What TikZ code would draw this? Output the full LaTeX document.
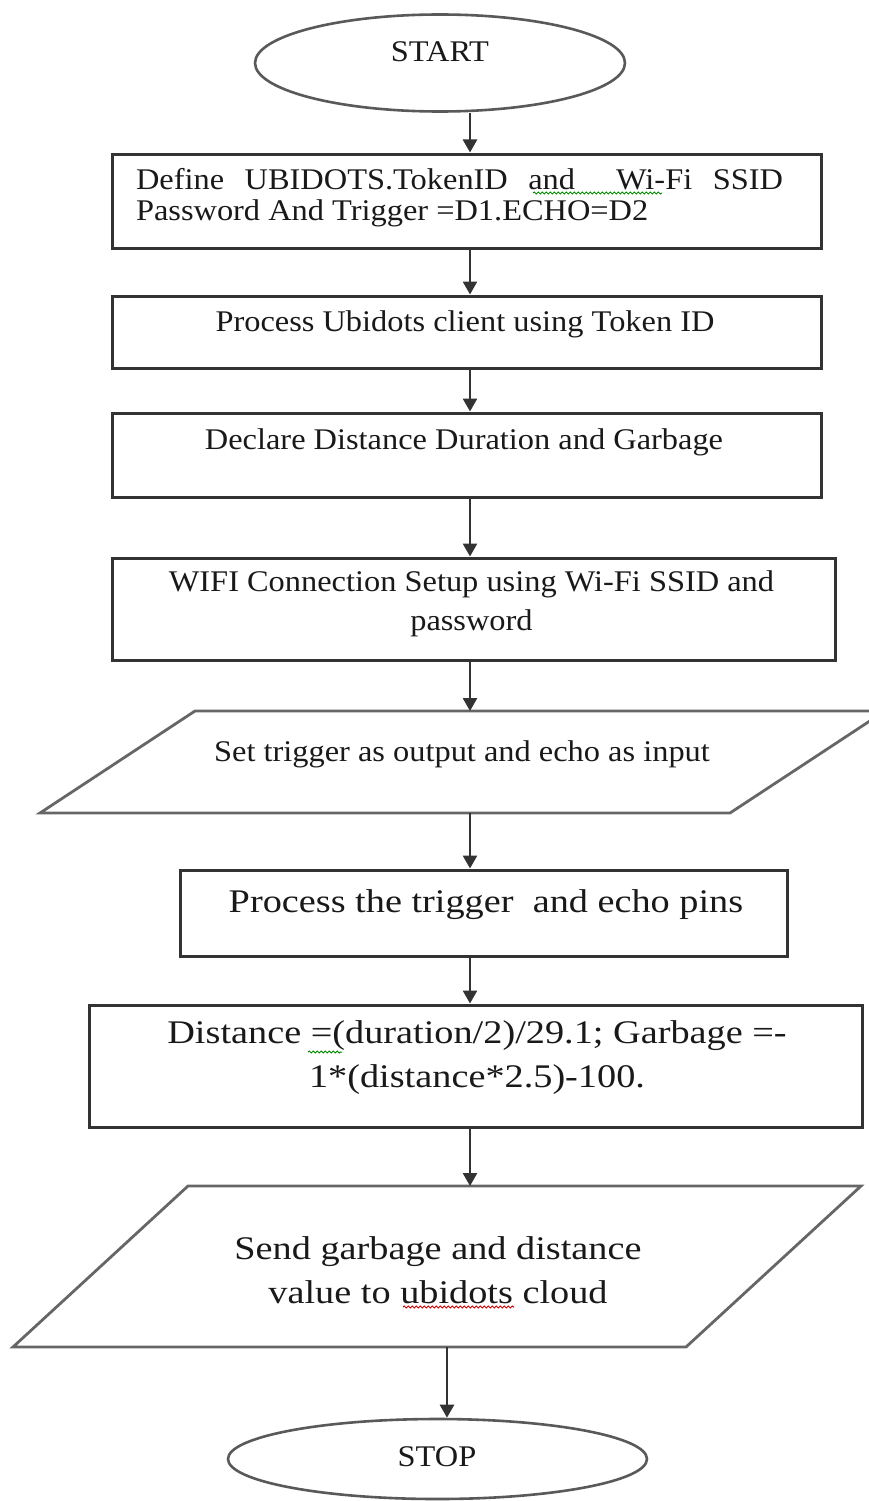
\documentclass[tikz,border=0pt]{standalone}
\usepackage{fontspec}
\setmainfont{Liberation Serif}
\newfontfamily\boxfont{Liberation Serif}[FakeStretch=1.08]
\newfontfamily\bigfont{Liberation Serif}[FakeStretch=1.16]
\usetikzlibrary{shapes.geometric, arrows.meta, decorations.pathmorphing}

\tikzset{
	flowbox/.style={rectangle, draw=black!80, line width=3pt, inner sep=0pt},
	terminal/.style={ellipse, draw=black!65, line width=2.6pt, inner sep=0pt},
	io/.style={draw=black!60, line width=2.8pt, line join=miter},
	txt/.style={text=black!90, align=center, inner sep=0pt, font=\boxfont\fontsize{30}{31}\selectfont},
	bigtxt/.style={txt, font=\bigfont\fontsize{33}{44}\selectfont},
	flow/.style={draw=black!80, line width=2.6pt, -{Triangle[length=13pt,width=14pt]}},
	squiggle/.style={line width=1pt, decorate, decoration={snake, amplitude=1pt, segment length=4pt}},
}

\begin{document}
\begin{tikzpicture}[x=1pt, y=-1pt]
	\useasboundingbox (0,0) rectangle (869,1501);
	\coordinate (spine) at (470,0);
	\coordinate (spinelow) at (447,0);

	\node[terminal, minimum width=370pt, minimum height=97pt] (start) at (440,63) {};
	\node[txt] (starttxt) at (440,52) {START};

	\node[flowbox, minimum width=709pt, minimum height=94pt] (b1) at (466.5,201) {};
	\node[txt, text width=647pt, align=justify] (t1) at (459.5,198) {Define UBIDOTS.TokenID and\ \ Wi-Fi SSID\linebreak Password And Trigger =D1.ECHO=D2};
	\node[flowbox, minimum width=709pt, minimum height=72pt] (b2) at (466.5,332) {};
	\node[txt] (t2) at (465,324) {Process Ubidots client using Token ID};
	\node[flowbox, minimum width=709pt, minimum height=84pt] (b3) at (466.5,455) {};
	\node[txt] (t3) at (464,442) {Declare Distance Duration and Garbage};
	\node[flowbox, minimum width=723pt, minimum height=102pt] (b4) at (473.5,609) {};
	\node[txt, font=\boxfont\fontsize{30}{39}\selectfont] (t4) at (471.5,604) {WIFI Connection Setup using Wi-Fi SSID and\\password};

	% input / output
	\coordinate (p1sw) at (40,813);
	\coordinate (p1se) at (730,813);
	\coordinate (p1ne) at (885,711);
	\coordinate (p1nw) at (195,711);
	\draw[io] (p1sw) -- (p1se) -- (p1ne) -- (p1nw) -- cycle;
	\node[txt] (t5) at (462,754) {Set trigger as output and echo as input};

	\node[flowbox, minimum width=607pt, minimum height=86pt] (b5) at (483.5,913) {};
	\node[bigtxt] (t6) at (486,905) {Process the trigger\ \ and echo pins};
	\node[flowbox, minimum width=773pt, minimum height=122pt] (b6) at (475.5,1066) {};
	\node[bigtxt] (t7) at (477,1058) {Distance =(duration/2)/29.1; Garbage =-\\1*(distance*2.5)-100.};

	\coordinate (p2sw) at (13,1347);
	\coordinate (p2se) at (686,1347);
	\coordinate (p2ne) at (861,1186);
	\coordinate (p2nw) at (188,1186);
	\draw[io] (p2sw) -- (p2se) -- (p2ne) -- (p2nw) -- cycle;
	\node[bigtxt] (t8) at (438,1270) {Send garbage and distance\\value to ubidots cloud};

	\node[terminal, minimum width=419pt, minimum height=80pt] (stop) at (437.5,1459) {};
	\node[txt] (stoptxt) at (437,1457) {STOP};

	% arrows
	\draw[flow] (start.south -| spine) -- (b1.north -| spine);
	\draw[flow] (b1.south -| spine) -- (b2.north -| spine);
	\draw[flow] (b2.south -| spine) -- (b3.north -| spine);
	\draw[flow] (b3.south -| spine) -- (b4.north -| spine);
	\draw[flow] (b4.south -| spine) -- (p1nw -| spine);
	\draw[flow] (p1sw -| spine) -- (b5.north -| spine);
	\draw[flow] (b5.south -| spine) -- (b6.north -| spine);
	\draw[flow] (b6.south -| spine) -- (p2nw -| spine);
	\draw[flow] (p2sw -| spinelow) -- (stop.north -| spinelow);

	% spell check marks
	\draw[squiggle, green!55!black] (533,193) -- (662,193);
	\draw[squiggle, green!55!black] (308,1052) -- (342,1052);
	\draw[squiggle, red!80!black] (403,1307) -- (514,1307);
\end{tikzpicture}
\end{document}
